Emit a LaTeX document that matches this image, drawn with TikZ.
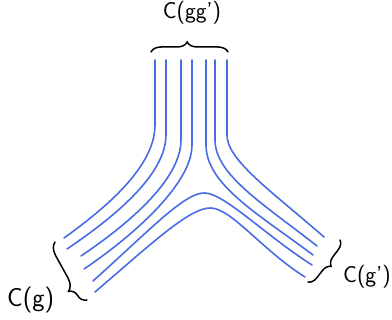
\documentclass[tikz,border=0pt]{standalone}
\usepackage{xcolor}
\usepackage{tikz}
\usetikzlibrary{decorations.pathreplacing, positioning}

\definecolor{strandblue}{RGB}{72,108,228}

\begin{document}
\begin{tikzpicture}[
    x=1pt, y=1pt,
    strand_line/.style={
        draw=strandblue,
        line width=1.6pt,
        line cap=round
    },
    brace_line/.style={
        draw=black,
        line width=1.5pt,
        line cap=round,
        decorate,
        decoration={brace, amplitude=#1}
    },
    label_text/.style={
        font=\sffamily\fontsize{23}{26}\selectfont,
        inner sep=0pt
    }
]

    \useasboundingbox (0,0) rectangle (392,-320);

    % Strands coming down and turning to the left
    \draw [strand_line] (155,-60) -- (155,-125) .. controls (155,-165) and (110,-205) .. (64,-238);
    \draw [strand_line] (166,-60) -- (166,-135) .. controls (166,-175) and (113,-218) .. (67,-249);
    \draw [strand_line] (181,-60) -- (181,-140) .. controls (181,-180) and (127,-225) .. (81,-256);
    \draw [strand_line] (192,-60) -- (192,-145) .. controls (192,-185) and (130,-238) .. (84,-269);

    % Strands coming down and turning to the right
    \draw [strand_line] (206,-60) -- (206,-145) .. controls (206,-185) and (260,-215) .. (313,-255);
    \draw [strand_line] (215,-60) -- (215,-140) .. controls (215,-175) and (265,-205) .. (317,-246);
    \draw [strand_line] (227,-60) -- (227,-135) .. controls (227,-160) and (270,-190) .. (324,-237);

    % Strands running from left arm to right arm
    \draw [strand_line] (93,-281) .. controls (150,-230) and (185,-192) .. (205,-193)
                                  .. controls (225,-194) and (265,-235) .. (312,-265);
    \draw [strand_line] (95,-292) .. controls (150,-245) and (190,-207) .. (211,-208)
                                  .. controls (232,-209) and (262,-250) .. (305,-277);

    % Braces
    \draw [brace_line=10pt, decoration={aspect=0.47}] (151,-52) -- (228,-52);
    \draw [brace_line=12pt, decoration={aspect=0.25}] (87,-300) -- (55,-242);
    \draw [brace_line=9pt] (340,-240) -- (308,-282);

    % Labels
    \node (topLabel) [label_text, anchor=base] at (192,-19) {C(gg')};
    \node (leftLabel) [label_text, anchor=base west, font=\sffamily\fontsize{26}{28}\selectfont] at (7,-307) {C(g)};
    \node (rightLabel) [label_text, anchor=base west] at (343,-283) {C(g')};

\end{tikzpicture}
\end{document}
